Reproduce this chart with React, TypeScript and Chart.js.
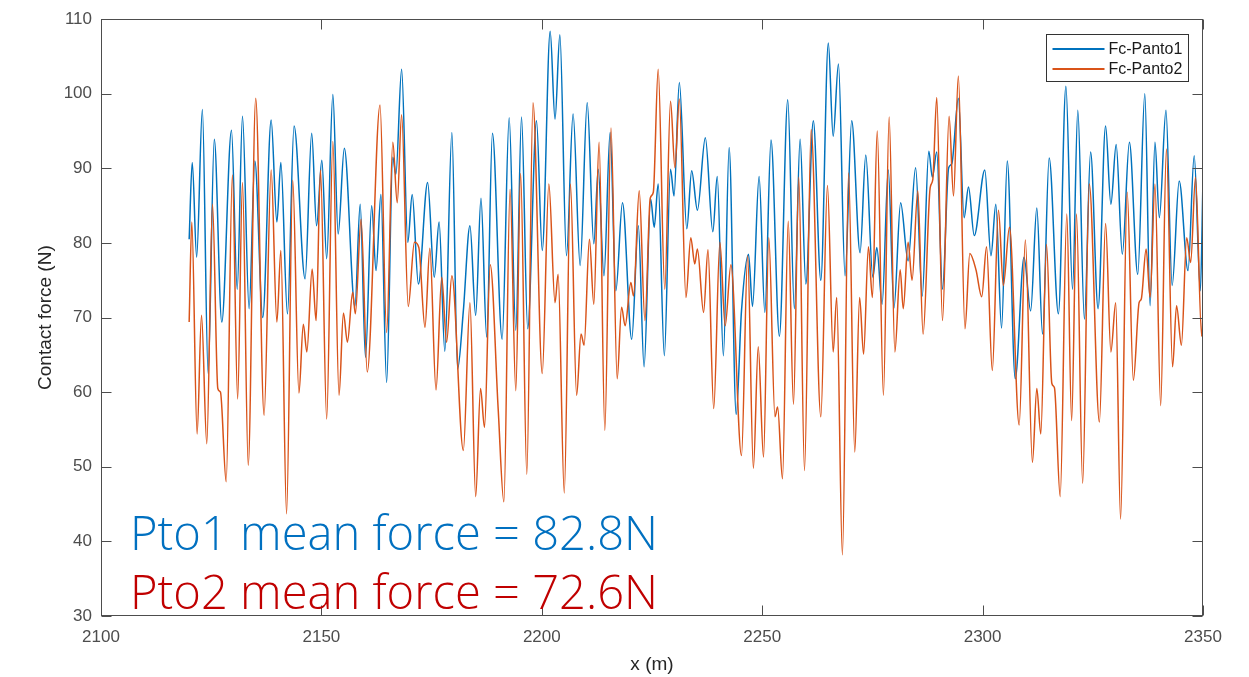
import React, { useEffect, useRef } from "react";
import { Chart, registerables } from "chart.js";

Chart.register(...registerables);

const seriesLabels = ["Fc-Panto1", "Fc-Panto2"];
const seriesColors = ["#0072BD", "#D95319"];

const pantoOnePosition = [
  2120.0, 2120.7, 2121.7, 2123.0, 2124.3, 2125.7, 2127.4, 2129.6, 2130.9, 2132.1,
  2133.6, 2134.9, 2136.7, 2138.6, 2139.9, 2140.8, 2142.3, 2143.8, 2146.3, 2147.8,
  2148.9, 2150.1, 2151.2, 2152.6, 2153.8, 2155.2, 2157.6, 2158.8, 2160.0, 2161.4,
  2162.4, 2163.5, 2164.8, 2166.2, 2166.9, 2168.2, 2169.6, 2170.6, 2172.0, 2174.1,
  2175.6, 2176.7, 2178.0, 2179.6, 2180.9, 2182.2, 2183.7, 2185.0, 2186.2, 2187.5,
  2188.8, 2191.0, 2192.6, 2194.1, 2195.4, 2196.8, 2198.8, 2200.1, 2201.9, 2203.0,
  2204.1, 2205.6, 2207.1, 2208.7, 2210.3, 2211.8, 2212.8, 2214.1, 2215.5, 2216.8,
  2218.3, 2220.4, 2221.9, 2223.2, 2224.7, 2225.5, 2226.4, 2227.8, 2229.2, 2230.0,
  2231.2, 2232.9, 2234.0, 2235.3, 2237.1, 2238.8, 2239.8, 2241.2, 2242.5, 2244.1,
  2245.3, 2246.9, 2247.8, 2249.3, 2250.6, 2252.0, 2253.9, 2255.8, 2257.3, 2258.6,
  2259.9, 2261.6, 2263.3, 2265.0, 2266.1, 2267.3, 2268.8, 2270.3, 2272.2, 2273.5,
  2275.1, 2276.0, 2277.2, 2278.6, 2279.9, 2281.4, 2283.1, 2284.8, 2286.3, 2287.8,
  2288.6, 2289.6, 2290.9, 2292.3, 2293.0, 2294.5, 2295.8, 2296.8, 2298.1, 2300.5,
  2301.9, 2303.0, 2304.3, 2305.6, 2307.4, 2309.4, 2310.9, 2312.3, 2313.6, 2315.1,
  2317.2, 2318.9, 2320.4, 2321.6, 2323.1, 2324.5, 2326.2, 2327.9, 2329.1, 2330.3,
  2331.7, 2333.3, 2335.2, 2336.8, 2338.0, 2339.1, 2340.1, 2341.6, 2343.0, 2344.6,
  2346.6, 2348.0, 2349.4, 2350.0,
];
const pantoOneForce = [
  80.5, 90.8, 78.1, 97.9, 62.5, 93.9, 69.4, 95.1, 73.8, 97.0,
  71.2, 91.0, 70.0, 96.5, 82.8, 90.8, 70.5, 95.7, 75.2, 94.7,
  82.3, 91.1, 77.9, 99.9, 81.2, 92.7, 71.5, 85.2, 64.7, 85.0,
  76.3, 86.5, 61.3, 91.5, 89.2, 103.3, 80.1, 86.5, 74.5, 88.1,
  75.4, 82.8, 65.5, 94.8, 63.1, 70.9, 82.3, 70.3, 86.0, 67.4,
  94.7, 67.1, 96.8, 68.3, 96.9, 68.5, 96.4, 79.0, 108.4, 96.6,
  107.9, 78.3, 97.3, 77.0, 98.8, 79.9, 89.9, 75.6, 94.8, 73.6,
  85.4, 67.1, 82.3, 63.4, 85.9, 82.1, 87.9, 64.9, 89.9, 86.3,
  101.5, 81.9, 89.7, 84.4, 94.1, 81.5, 88.9, 64.9, 92.8, 57.0,
  70.9, 78.5, 71.5, 88.9, 70.7, 93.8, 67.5, 99.2, 71.2, 93.9,
  74.5, 96.4, 75.0, 106.8, 94.3, 104.0, 75.6, 96.4, 78.7, 91.8,
  75.4, 79.4, 71.8, 89.8, 71.3, 85.4, 77.6, 90.1, 72.9, 92.3,
  88.8, 92.2, 73.8, 90.1, 90.6, 99.4, 83.4, 87.5, 81.0, 89.8,
  78.3, 85.2, 68.6, 91.0, 61.8, 78.1, 70.9, 84.7, 67.8, 91.4,
  70.5, 101.0, 73.8, 97.8, 69.8, 92.2, 71.2, 95.7, 85.2, 93.2,
  78.5, 93.5, 75.8, 100.0, 71.6, 93.5, 83.4, 97.8, 74.3, 88.3,
  76.3, 91.7, 73.6, 88.5,
];

const pantoTwoPosition = [
  2120.0, 2120.6, 2121.8, 2122.8, 2124.0, 2125.3, 2126.5, 2127.1, 2128.4, 2129.8,
  2131.0, 2132.1, 2133.4, 2135.1, 2137.0, 2138.6, 2139.9, 2140.8, 2142.1, 2143.5,
  2144.9, 2145.9, 2146.7, 2147.9, 2148.8, 2149.8, 2151.2, 2152.6, 2154.0, 2155.0,
  2155.9, 2157.1, 2157.7, 2159.0, 2160.4, 2163.3, 2164.8, 2166.2, 2167.2, 2168.2,
  2169.7, 2171.1, 2172.1, 2173.5, 2174.6, 2176.0, 2177.3, 2178.4, 2179.6, 2182.2,
  2183.7, 2185.0, 2186.1, 2187.0, 2188.3, 2190.1, 2191.4, 2192.8, 2194.1, 2195.2,
  2196.6, 2198.0, 2200.1, 2201.6, 2203.0, 2203.7, 2205.1, 2206.5, 2207.9, 2208.9,
  2209.6, 2210.8, 2211.8, 2213.0, 2214.3, 2215.7, 2217.1, 2218.1, 2218.9, 2220.2,
  2220.8, 2222.1, 2223.4, 2224.6, 2225.3, 2226.4, 2227.9, 2229.2, 2230.2, 2231.2,
  2232.7, 2233.8, 2234.7, 2235.3, 2236.7, 2237.7, 2239.0, 2240.4, 2241.6, 2242.9,
  2245.3, 2246.7, 2248.0, 2249.1, 2250.3, 2251.5, 2252.9, 2253.5, 2254.6, 2255.9,
  2257.1, 2258.3, 2259.6, 2261.1, 2263.3, 2264.8, 2266.1, 2266.9, 2268.2, 2269.6,
  2271.0, 2272.1, 2273.0, 2274.1, 2275.0, 2276.1, 2277.5, 2278.8, 2280.1, 2281.3,
  2282.0, 2283.1, 2284.0, 2285.3, 2286.5, 2288.1, 2288.7, 2289.6, 2290.9, 2292.4,
  2293.4, 2294.5, 2296.0, 2297.1, 2298.5, 2299.8, 2300.9, 2302.2, 2303.6, 2304.7,
  2306.1, 2308.3, 2309.7, 2311.3, 2312.3, 2313.2, 2314.5, 2315.7, 2316.3, 2317.6,
  2319.1, 2320.2, 2321.3, 2322.7, 2324.2, 2326.5, 2327.9, 2329.1, 2330.2, 2331.3,
  2332.8, 2334.2, 2335.5, 2336.0, 2337.1, 2338.0, 2339.1, 2340.4, 2341.7, 2343.1,
  2344.0, 2345.1, 2346.3, 2347.2, 2348.3, 2349.7, 2350.0,
];
const pantoTwoForce = [
  69.4, 82.8, 54.4, 70.3, 53.1, 85.2, 60.5, 60.0, 48.0, 89.1,
  59.1, 88.1, 50.2, 99.4, 56.9, 89.8, 69.4, 79.0, 43.7, 88.4,
  59.9, 69.1, 65.4, 76.5, 69.6, 89.8, 56.4, 93.6, 59.6, 70.6,
  66.7, 73.4, 70.5, 83.2, 62.7, 98.5, 68.0, 93.5, 85.4, 97.2,
  71.5, 80.1, 79.4, 68.7, 79.3, 60.3, 75.4, 66.7, 75.6, 52.2,
  72.0, 46.0, 60.5, 55.3, 77.1, 57.8, 45.3, 87.2, 60.2, 89.3,
  49.0, 98.8, 62.5, 87.9, 72.0, 75.8, 46.5, 87.9, 59.6, 67.8,
  66.3, 80.5, 71.8, 93.5, 54.9, 95.4, 61.8, 71.4, 68.9, 74.7,
  72.9, 87.0, 69.6, 86.0, 86.8, 103.3, 73.8, 99.0, 90.1, 99.3,
  72.7, 80.7, 77.2, 79.2, 70.7, 79.1, 57.8, 80.1, 68.9, 77.1,
  51.5, 78.3, 49.8, 66.1, 51.3, 80.7, 56.7, 58.0, 48.4, 82.9,
  58.4, 88.8, 49.5, 95.2, 56.7, 87.7, 65.4, 72.7, 38.2, 89.4,
  52.0, 72.7, 65.1, 79.5, 72.7, 95.0, 59.6, 96.9, 65.4, 76.4,
  71.2, 80.1, 75.0, 87.0, 67.8, 87.4, 88.5, 99.5, 69.6, 97.0,
  86.3, 102.4, 68.5, 78.6, 76.4, 72.8, 79.5, 62.9, 84.4, 74.3,
  82.1, 55.6, 80.4, 50.6, 60.5, 54.4, 79.8, 61.2, 60.6, 46.0,
  83.9, 56.2, 83.9, 47.8, 87.9, 56.0, 82.6, 65.4, 72.0, 43.0,
  86.8, 61.6, 72.0, 72.5, 79.2, 72.7, 87.9, 58.2, 92.6, 63.4,
  71.6, 66.3, 80.7, 77.4, 88.8, 67.5, 71.0,
];

const xTickValues = [2100, 2150, 2200, 2250, 2300, 2350];
const yTickValues = [30, 40, 50, 60, 70, 80, 90, 100, 110];
const axisTitles = ["x (m)", "Contact force (N)"];
const meanNotes = ["Pto1 mean force = 82.8N", "Pto2 mean force = 72.6N"];
const meanNoteColors = ["#0070C0", "#C00000"];

const AXIS_FONT = "'Liberation Sans', Arial, Helvetica, sans-serif";
const NOTE_FONT = "'Open Sans', 'Noto Sans', sans-serif";

const overlayPlugin = {
  id: "matlabOverlay",
  afterDatasetsDraw(chart: any) {
    const { ctx, chartArea: a, scales } = chart;
    const L = Math.round(a.left) + 0.5;
    const R = Math.round(a.right) - 0.5;
    const T = Math.round(a.top) + 0.5;
    const B = Math.round(a.bottom) - 0.5;
    const tick = 10;
    ctx.save();
    // frame
    ctx.strokeStyle = "#4d4d4d";
    ctx.lineWidth = 1;
    ctx.strokeRect(L, T, R - L, B - T);
    ctx.beginPath();
    for (const v of xTickValues) {
      const px = Math.round(scales.x.getPixelForValue(v)) + 0.5;
      ctx.moveTo(px, B);
      ctx.lineTo(px, B - tick);
      ctx.moveTo(px, T);
      ctx.lineTo(px, T + tick);
    }
    for (const v of yTickValues) {
      const py = Math.round(scales.y.getPixelForValue(v)) + 0.5;
      ctx.moveTo(L, py);
      ctx.lineTo(L + tick, py);
      ctx.moveTo(R, py);
      ctx.lineTo(R - tick, py);
    }
    ctx.stroke();

    // legend box
    const lx = Math.round(a.right) - 157 + 0.5;
    const ly = Math.round(a.top) + 15 + 0.5;
    const lw = 142;
    const lh = 47;
    ctx.fillStyle = "#ffffff";
    ctx.fillRect(lx, ly, lw, lh);
    ctx.strokeStyle = "#333333";
    ctx.strokeRect(lx, ly, lw, lh);
    ctx.font = `16px ${AXIS_FONT}`;
    ctx.textBaseline = "middle";
    ctx.textAlign = "left";
    chart.data.datasets.forEach((ds: any, i: number) => {
      const y = ly + 14.5 + i * 20;
      ctx.strokeStyle = ds.borderColor;
      ctx.lineWidth = 2;
      ctx.beginPath();
      ctx.moveTo(lx + 6, y);
      ctx.lineTo(lx + 58, y);
      ctx.stroke();
      ctx.fillStyle = "#1a1a1a";
      ctx.fillText(ds.label, lx + 62, y + 1);
    });

    // mean force notes
    ctx.textBaseline = "alphabetic";
    const targetWidth = 528;
    ctx.font = `300 52px ${NOTE_FONT}`;
    const measured = ctx.measureText(meanNotes[0]).width;
    const size = 52 * targetWidth / measured;
    ctx.font = `300 ${size.toFixed(1)}px ${NOTE_FONT}`;
    const baselines = [550, 609];
    meanNotes.forEach((t, i) => {
      ctx.fillStyle = meanNoteColors[i];
      ctx.fillText(t, 130, baselines[i]);
    });
    ctx.restore();
  },
};

export default function App() {
  const canvasRef = useRef<HTMLCanvasElement | null>(null);

  useEffect(() => {
    const canvas = canvasRef.current;
    if (!canvas) return;
    const makeData = (xs: number[], ys: number[]) => xs.map((x, i) => ({ x, y: ys[i] }));
    const chart = new Chart(canvas, {
      type: "line",
      data: {
        datasets: [
          {
            label: seriesLabels[0],
            data: makeData(pantoOnePosition, pantoOneForce),
            borderColor: seriesColors[0],
            backgroundColor: seriesColors[0],
            borderWidth: 1.5,
            pointRadius: 0,
            cubicInterpolationMode: "monotone",
            order: 1,
          },
          {
            label: seriesLabels[1],
            data: makeData(pantoTwoPosition, pantoTwoForce),
            borderColor: seriesColors[1],
            backgroundColor: seriesColors[1],
            borderWidth: 1.5,
            pointRadius: 0,
            cubicInterpolationMode: "monotone",
            order: 0,
          },
        ],
      },
      options: {
        animation: false,
        responsive: false,
        devicePixelRatio: 1,
        layout: { padding: { top: 18, right: 46, bottom: 0, left: 0 } },
        plugins: {
          legend: { display: false },
          tooltip: { enabled: false },
        },
        scales: {
          x: {
            type: "linear",
            min: 2100,
            max: 2350,
            afterFit: (s: any) => {
              s.height = 61;
            },
            afterBuildTicks: (s: any) => {
              s.ticks = xTickValues.map((v) => ({ value: v }));
            },
            ticks: {
              font: { family: AXIS_FONT, size: 17 },
              color: "#4d4d4d",
              padding: 11,
              maxRotation: 0,
              callback: (v: any) => String(v),
            },
            grid: { display: false, drawTicks: false },
            border: { display: false },
            title: {
              display: true,
              text: axisTitles[0],
              font: { family: AXIS_FONT, size: 19 },
              color: "#262626",
              padding: { top: 0, bottom: 1 },
            },
          },
          y: {
            type: "linear",
            min: 30,
            max: 110,
            afterFit: (s: any) => {
              s.width = 101;
            },
            afterBuildTicks: (s: any) => {
              s.ticks = yTickValues.map((v) => ({ value: v }));
            },
            ticks: {
              font: { family: AXIS_FONT, size: 17 },
              color: "#4d4d4d",
              padding: 9,
              callback: (v: any) => String(v),
            },
            grid: { display: false, drawTicks: false },
            border: { display: false },
            title: {
              display: true,
              text: axisTitles[1],
              font: { family: AXIS_FONT, size: 19 },
              color: "#262626",
              padding: { top: 34, bottom: 0 },
            },
          },
        },
      },
      plugins: [overlayPlugin],
    });
    return () => chart.destroy();
  }, []);

  return (
    <div style={{ position: "fixed", left: 0, top: 0, width: 1249, height: 677, background: "#ffffff" }}>
      <canvas ref={canvasRef} width={1249} height={677} style={{ display: "block" }} />
    </div>
  );
}
